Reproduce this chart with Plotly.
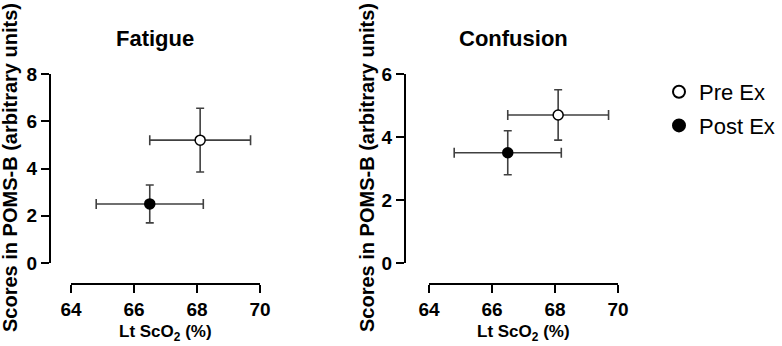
import plotly.graph_objects as go

# Data
groups = ["Pre Ex", "Post Ex"]
sco2_mean = [68.1, 66.5]
sco2_err = [1.6, 1.7]
fatigue_mean = [5.2, 2.5]
fatigue_err = [1.35, 0.8]
confusion_mean = [4.7, 3.5]
confusion_err = [0.8, 0.7]
panel_titles = ["Fatigue", "Confusion"]
x_ticks = [64, 66, 68, 70]
fatigue_ticks = [0, 2, 4, 6, 8]
confusion_ticks = [0, 2, 4, 6]

W, H = 782, 346
FONT = "Liberation Sans, Arial, sans-serif"
ERR_COLOR = "#404040"

def px_x(p):
    return p / W

def px_y(p):
    return 1 - p / H

def bold(vals):
    return ["<b>%d</b>" % v for v in vals]

fig = go.Figure()

fills = ["white", "black"]
panels = [(fatigue_mean, fatigue_err, "x", "y", True),
          (confusion_mean, confusion_err, "x2", "y2", False)]
for ys, yerr, xa, ya, show in panels:
    for i, g in enumerate(groups):
        fig.add_trace(go.Scatter(
            x=[sco2_mean[i]], y=[ys[i]],
            mode="markers", name=g, showlegend=show, legendgroup=g,
            xaxis=xa, yaxis=ya,
            marker=dict(size=10, color=fills[i], line=dict(color="black", width=1.5)),
            error_x=dict(type="data", array=[sco2_err[i]], color=ERR_COLOR, thickness=1.6, width=5),
            error_y=dict(type="data", array=[yerr[i]], color=ERR_COLOR, thickness=1.6, width=4),
        ))

ax_common = dict(showline=True, linecolor="black", linewidth=2.4, ticks="outside",
                 ticklen=8, tickwidth=2.4, tickcolor="black", showgrid=False, zeroline=False,
                 automargin=False, tickmode="array",
                 tickfont=dict(family=FONT, size=19, color="black", weight="bold"))

ydom = [px_y(263), px_y(74)]
fig.update_layout(
    width=W, height=H,
    margin=dict(l=0, r=0, t=0, b=0, autoexpand=False),
    paper_bgcolor="white", plot_bgcolor="white",
    font=dict(family=FONT, color="black"),
    xaxis=dict(domain=[px_x(71), px_x(260)], range=[64, 70], tickvals=x_ticks, ticktext=bold(x_ticks),
               anchor="free", position=px_y(284), **ax_common),
    yaxis=dict(domain=ydom, range=[0, 8], tickvals=fatigue_ticks, ticktext=bold(fatigue_ticks),
               anchor="free", position=px_x(50), **ax_common),
    xaxis2=dict(domain=[px_x(429), px_x(618)], range=[64, 70], tickvals=x_ticks, ticktext=bold(x_ticks),
                anchor="free", position=px_y(284), **ax_common),
    yaxis2=dict(domain=ydom, range=[0, 6], tickvals=confusion_ticks, ticktext=bold(confusion_ticks),
                anchor="free", position=px_x(405), **ax_common),
    legend=dict(x=px_x(659), y=px_y(71), xanchor="left", yanchor="top",
                font=dict(family=FONT, size=22, color="black"), bgcolor="rgba(0,0,0,0)",
                itemsizing="constant", tracegroupgap=2),
)

annotations = []
for title, cx in zip(panel_titles, [155, 513]):
    annotations.append(dict(text=title, x=px_x(cx), y=px_y(38), xref="paper", yref="paper",
                            showarrow=False, xanchor="center", yanchor="middle",
                            font=dict(family=FONT, size=22, color="black", weight="bold")))
for cx in [10, 367]:
    annotations.append(dict(text="Scores in POMS-B (arbitrary units)", x=px_x(cx), y=px_y(168),
                            xref="paper", yref="paper", showarrow=False, textangle=-90,
                            xanchor="center", yanchor="middle",
                            font=dict(family=FONT, size=20, color="black", weight="bold")))
for cx in [165, 523]:
    annotations.append(dict(text="Lt ScO<sub>2</sub> (%)", x=px_x(cx), y=px_y(333),
                            xref="paper", yref="paper", showarrow=False,
                            xanchor="center", yanchor="middle",
                            font=dict(family=FONT, size=17, color="black", weight="bold")))
fig.update_layout(annotations=annotations)

fig.write_html("out.html", config={"displayModeBar": False},
               post_script="document.body.style.margin='0px';")
